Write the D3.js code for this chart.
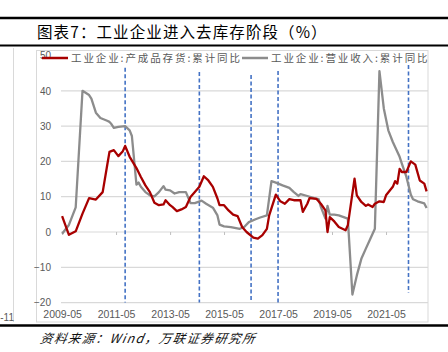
<!DOCTYPE html>
<html>
<head>
<meta charset="utf-8">
<script src="https://cdn.jsdelivr.net/npm/d3@7"></script>
<style>
  body { margin: 0; background: #fff; }
  svg { display: block; }
  text { font-family: "Liberation Sans", Arial, sans-serif; }
  .cjk { font-family: "Noto Sans CJK SC", sans-serif; }
</style>
</head>
<body>
<div id="chart"></div>
<script>
// data (cumulative yoy, %)
var invDates = ["2009-05","2009-08","2009-11","2010-02","2010-05","2010-08","2010-11","2011-01","2011-02","2011-04",
  "2011-06","2011-08","2011-09","2011-11","2012-02","2012-04","2012-06","2012-08","2012-10","2012-12",
  "2013-02","2013-03","2013-05","2013-06","2013-08","2013-10","2013-12","2014-02","2014-04","2014-06",
  "2014-08","2014-10","2014-12","2015-02","2015-03","2015-05","2015-07","2015-09","2015-11","2016-01",
  "2016-03","2016-06","2016-08","2016-10","2016-12","2017-01","2017-04","2017-06","2017-08","2017-10",
  "2017-12","2018-03","2018-04","2018-06","2018-07","2018-10","2018-12","2019-02","2019-03","2019-04",
  "2019-06","2019-08","2019-11","2019-12","2020-03","2020-04","2020-06","2020-08","2020-09","2020-11",
  "2020-12","2021-02","2021-04","2021-05","2021-08","2021-09","2021-10","2021-11","2021-12","2022-02",
  "2022-04","2022-06","2022-08","2022-10","2022-11"];
var invValues = [4.5,-0.8,0.2,5.2,9.6,9.2,11.3,18.9,22.7,23.2,
  21.5,22.9,24.4,21.3,18.1,15.6,13.2,11.3,8.3,7.6,
  7.8,9.0,7.6,7.1,5.9,6.4,7.1,9.9,11.3,12.8,
  15.8,14.6,12.8,9.5,7.6,7.6,6.1,4.9,4.5,1.4,
  0.0,-1.6,-1.9,-0.9,0.9,4.7,10.6,8.7,8.0,9.3,
  9.0,9.0,5.7,8.0,9.6,9.4,8.0,6.1,0.0,4.2,
  3.0,1.4,0.5,1.9,15.1,10.4,8.5,7.4,7.8,7.1,
  8.0,8.7,8.5,10.4,12.8,14.4,13.7,17.9,17.0,17.0,
  20.0,19.1,14.6,13.7,11.5];

var revDates = ["2009-05","2009-08","2009-11","2010-02","2010-05","2010-06","2010-08","2010-10","2011-01","2011-02",
  "2011-03","2011-04","2011-06","2011-09","2011-11","2011-12","2012-02","2012-03","2012-04","2012-06",
  "2012-08","2012-10","2012-12","2013-02","2013-03","2013-05","2013-07","2013-09","2013-12","2014-02",
  "2014-04","2014-07","2014-09","2014-12","2015-02","2015-03","2015-05","2015-08","2015-12","2016-02",
  "2016-04","2016-07","2016-09","2016-12","2017-02","2017-04","2017-07","2017-10","2017-12","2018-02",
  "2018-03","2018-06","2018-09","2018-11","2018-12","2019-02","2019-03","2019-04","2019-06","2019-08",
  "2019-12","2020-02","2020-04","2020-06","2020-08","2020-10","2020-12","2021-02","2021-04","2021-06",
  "2021-08","2021-11","2021-12","2022-02","2022-04","2022-05","2022-07","2022-10","2022-11"];
var revValues = [-0.5,2.0,7.0,40.0,38.8,37.8,33.8,32.3,31.5,31.2,
  30.5,29.5,29.8,30.0,28.8,27.2,13.4,14.0,12.8,11.3,
  10.4,10.1,11.3,13.0,12.0,11.8,10.9,11.3,11.3,8.2,
  8.2,8.9,8.0,6.9,4.7,2.1,1.6,1.4,0.9,1.5,
  2.8,3.6,4.1,4.7,14.4,14.0,13.2,12.5,11.3,10.2,
  10.7,10.2,9.6,9.3,7.1,3.8,7.4,4.9,4.9,4.7,
  3.8,-17.7,-12.3,-7.6,-4.7,-1.9,0.9,45.6,35.0,28.8,
  25.5,21.3,19.4,15.6,10.6,9.3,8.7,8.1,6.8];

var seriesNames = ["工业企业:产成品存货:累计同比", "工业企业:营业收入:累计同比"];
var seriesColors = ["#a80000", "#8c8c8c"];

// stage markers: date, top and bottom value of each dashed line
var markerDates = ["2011-09", "2014-06", "2016-05", "2017-05", "2022-03"];
var markerTops = [46.5, 45.3, 44.5, 45.6, 47.3];
var markerBottoms = [-20, -20, -20, -20, -17.3];

var yTicks = [-20, -10, 0, 10, 20, 30, 40, 50];
var xTickLabels = ["2009-05", "2011-05", "2013-05", "2015-05", "2017-05", "2019-05", "2021-05"];

var titleText = "图表7：工业企业进入去库存阶段（%）";
var sourceText = "资料来源：Wind，万联证券研究所";

var W = 448, H = 352;
var parse = d3.utcParse("%Y-%m");

var svg = d3.select("#chart").append("svg")
    .attr("width", W)
    .attr("height", H);

// page rules and title
svg.append("line").attr("x1", 0).attr("x2", W).attr("y1", 18).attr("y2", 18)
    .attr("stroke", "#000").attr("stroke-width", 2.5);
svg.append("text").attr("class", "cjk")
    .attr("x", 37).attr("y", 37.5)
    .style("font-size", "15.5px").style("letter-spacing", "1.1px").attr("fill", "#000")
    .text(titleText);
svg.append("line").attr("x1", 0).attr("x2", W).attr("y1", 45.5).attr("y2", 45.5)
    .attr("stroke", "#000").attr("stroke-width", 2);
svg.append("line").attr("x1", 0).attr("x2", W).attr("y1", 325.5).attr("y2", 325.5)
    .attr("stroke", "#000").attr("stroke-width", 2.5);
svg.append("text").attr("class", "cjk")
    .attr("x", 40).attr("y", 343)
    .style("font-size", "12.5px").style("font-style", "italic")
    .style("letter-spacing", "1.4px").attr("fill", "#111")
    .attr("transform", "skewX(-10) translate(60,0)")
    .text(sourceText);

// neighbouring chart edge
svg.append("line").attr("x1", 13.5).attr("x2", 13.5).attr("y1", 48).attr("y2", 322)
    .attr("stroke", "#d9d9d9");
svg.append("text").attr("x", 14).attr("y", 321).attr("text-anchor", "end")
    .style("font-size", "10px").attr("fill", "#595959").text("-11");

// chart frame
svg.append("rect").attr("x", 36.5).attr("y", 50.5).attr("width", 391.5).attr("height", 271.5)
    .attr("fill", "none").attr("stroke", "#d9d9d9");

var x = d3.scaleUtc()
    .domain([new Date(Date.UTC(2009, 3, 16)), new Date(Date.UTC(2022, 10, 20))])
    .range([61, 428]);
var y = d3.scaleLinear().domain([-20, 50]).range([302.6, 55.5]);

// gridlines
svg.append("g").selectAll("line")
    .data(yTicks.filter(d => d < 50))
    .enter().append("line")
    .attr("x1", x.range()[0]).attr("x2", x.range()[1])
    .attr("y1", d => y(d)).attr("y2", d => y(d))
    .attr("stroke", "#d9d9d9").attr("stroke-width", 1.2);

// y axis labels
var yAxis = d3.axisLeft(y).tickValues(yTicks).tickSize(0).tickPadding(2)
    .tickFormat(d => d < 0 ? "\u2212" + Math.abs(d) : d);
var yG = svg.append("g").attr("transform", "translate(53,0)").call(yAxis);
yG.select(".domain").remove();
yG.selectAll("text").style("font-size", "10px").attr("fill", "#595959")
    .style("font-family", "'Liberation Sans', Arial, sans-serif");

// x ticks on the zero line, labels at the bottom
var xDates = xTickLabels.map(parse);
var xTickAxis = d3.axisBottom(x).tickValues(xDates).tickSize(3).tickFormat("");
var xt = svg.append("g").attr("transform", "translate(0," + y(0) + ")").call(xTickAxis);
xt.select(".domain").remove();
xt.selectAll("line").attr("stroke", "#bfbfbf");

var xAxis = d3.axisBottom(x).tickValues(xDates).tickSize(0)
    .tickFormat((d, i) => xTickLabels[i]);
var xG = svg.append("g").attr("transform", "translate(0,308)").call(xAxis);
xG.select(".domain").remove();
xG.selectAll("text").style("font-size", "10.5px").attr("fill", "#595959")
    .style("font-family", "'Liberation Sans', Arial, sans-serif");

// stage markers
svg.append("g").selectAll("line")
    .data(markerDates)
    .enter().append("line")
    .attr("x1", d => x(parse(d))).attr("x2", d => x(parse(d)))
    .attr("y1", (d, i) => y(markerTops[i])).attr("y2", (d, i) => y(markerBottoms[i]))
    .attr("stroke", "#4472c4").attr("stroke-width", 1.6)
    .attr("stroke-dasharray", "4,2.5");

// series
var line = d3.line()
    .x(d => x(d.date))
    .y(d => y(d.value));

var series = [
    invDates.map((d, i) => ({ date: parse(d), value: invValues[i] })),
    revDates.map((d, i) => ({ date: parse(d), value: revValues[i] }))
];

svg.append("g").selectAll("path")
    .data([series[1], series[0]])
    .enter().append("path")
    .attr("d", line)
    .attr("fill", "none")
    .attr("stroke", (d, i) => i == 0 ? seriesColors[1] : seriesColors[0])
    .attr("stroke-width", 2.3)
    .attr("stroke-linejoin", "round");

// legend
var legendX = [42, 242];
var lg = svg.append("g").selectAll("g")
    .data(seriesNames)
    .enter().append("g")
    .attr("transform", (d, i) => "translate(" + legendX[i] + ",58)");
lg.append("line").attr("x1", 0).attr("x2", 26)
    .attr("stroke", (d, i) => seriesColors[i]).attr("stroke-width", 2.5);
lg.append("text").attr("class", "cjk")
    .attr("x", 29).attr("y", 4)
    .style("font-size", "10.5px").style("letter-spacing", "1.9px")
    .attr("fill", "#595959")
    .text(d => d);
</script>
</body>
</html>
